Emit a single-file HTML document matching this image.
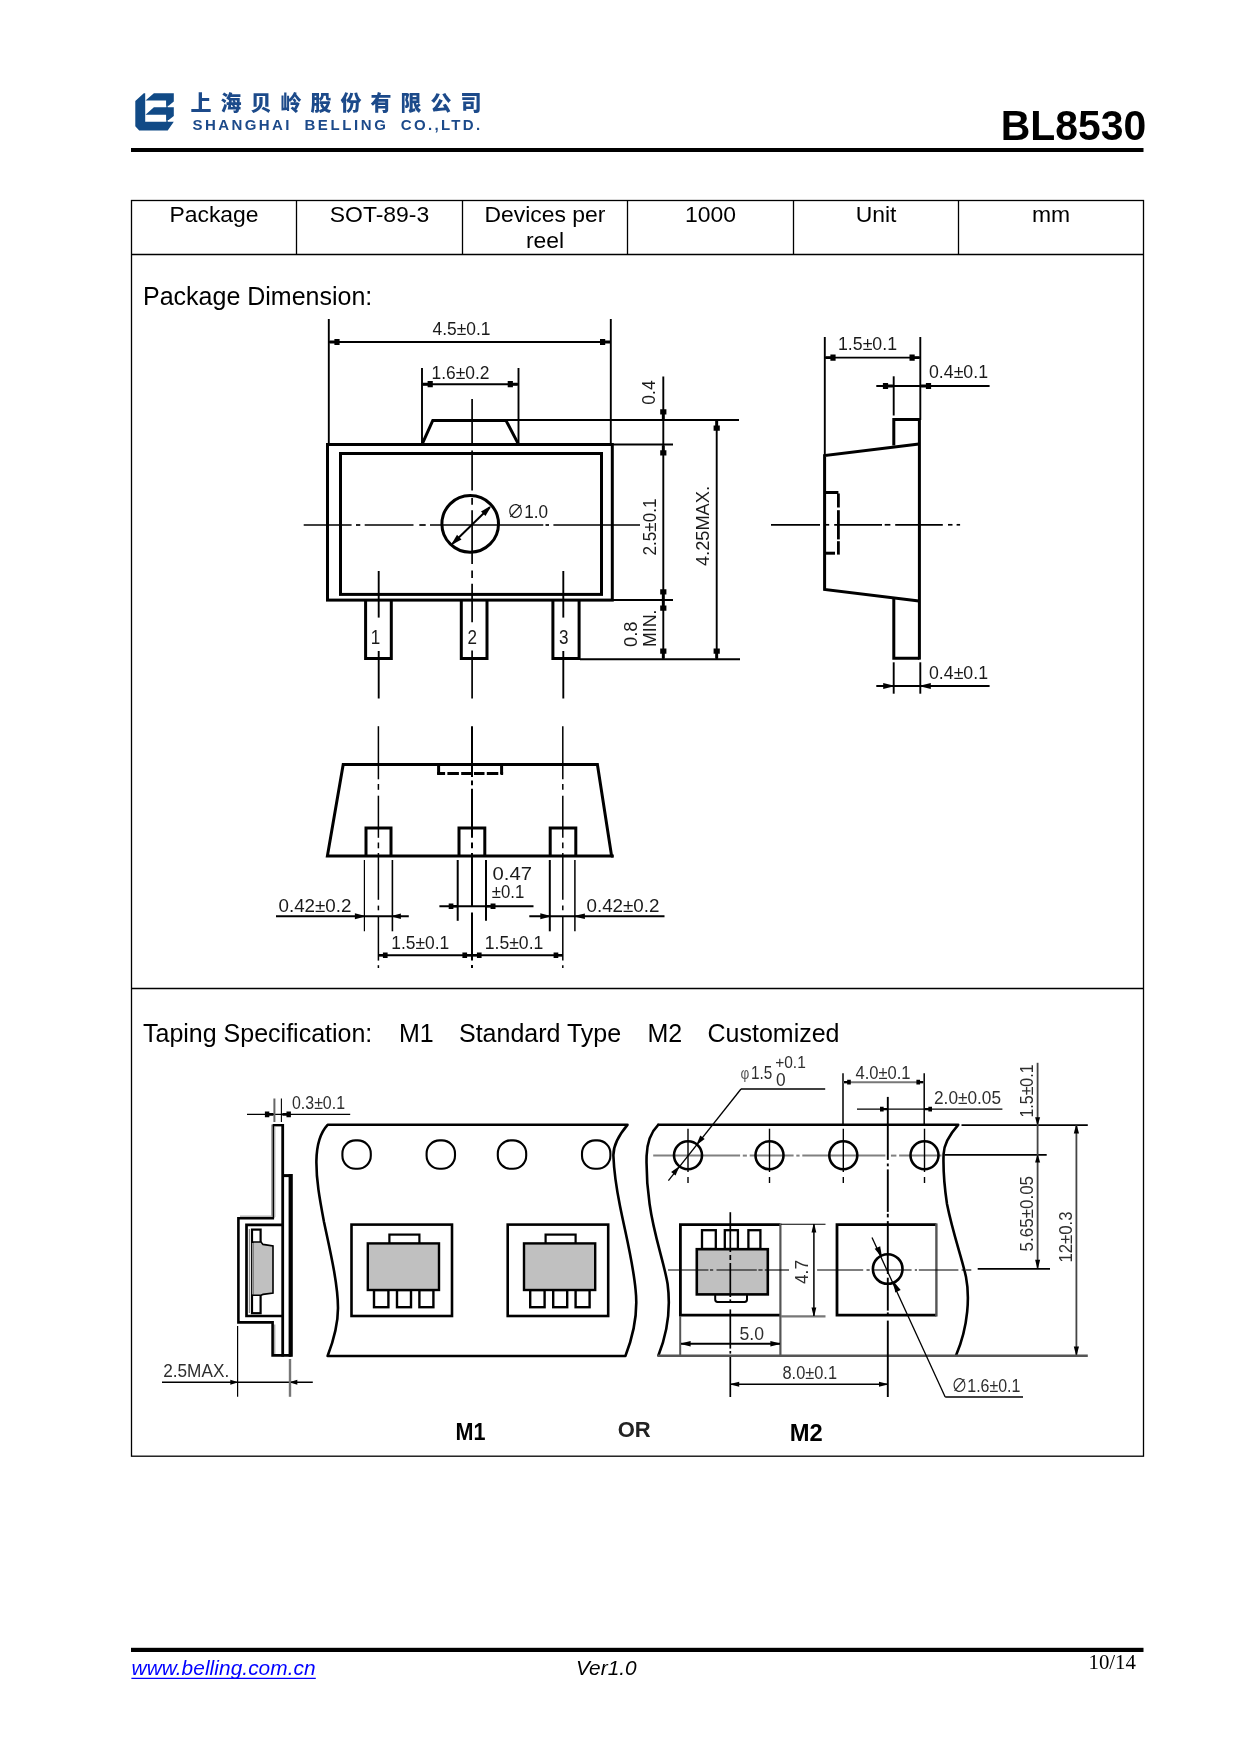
<!DOCTYPE html>
<html lang="en"><head><meta charset="utf-8"><title>BL8530 - Package and Taping Specification</title>
<style>html,body{margin:0;padding:0;background:#fff}body{width:1240px;height:1754px;position:relative;overflow:hidden}svg{position:absolute;left:0;top:0;display:block}text{font-family:"Liberation Sans", "Noto Sans CJK SC", sans-serif}</style></head><body>
<svg style="will-change:transform" width="1240" height="1754" viewBox="0 0 1240 1754">
<rect x="0" y="0" width="1240" height="1754" fill="#fff"/>
<g id="logo" fill="#114a86">
<polygon points="143.8,93.3 145.2,93.3 145.2,121.8 173.8,121.8 167.7,130.5 139.2,130.5 135.3,126.2 135.3,101"/>
<polygon points="153.9,93.3 173.8,93.3 173.8,101.5 168.7,105.8 166.3,105.8 166.3,100.5 145.5,100.5"/>
<polygon points="153.9,107.3 173.8,107.3 173.8,116 168.7,119.9 166.3,119.9 166.3,114.8 145.5,114.8"/>
<rect x="166.3" y="100" width="1.4" height="22"/>
</g>
<text x="190.6" y="109.8" font-size="21" fill="#1c4a8a" font-weight="900" letter-spacing="9">上海贝岭股份有限公司</text>
<text x="192.5" y="130" font-size="15" fill="#1c4a8a" font-weight="bold" textLength="97" lengthAdjust="spacing">SHANGHAI</text>
<text x="304.4" y="130" font-size="15" fill="#1c4a8a" font-weight="bold" textLength="81.6" lengthAdjust="spacing">BELLING</text>
<text x="400.8" y="130" font-size="15" fill="#1c4a8a" font-weight="bold" textLength="79.4" lengthAdjust="spacing">CO.,LTD.</text>
<text x="1000.8" y="140" font-size="41.67" textLength="145.4" lengthAdjust="spacingAndGlyphs" font-weight="bold">BL8530</text>
<rect x="131" y="148" width="1012.5" height="4" fill="#000" stroke="none" stroke-width="0"/>
<rect x="131.5" y="200.5" width="1012" height="1255.7" fill="none" stroke="#000" stroke-width="1.3"/>
<line x1="131.5" y1="254.5" x2="1143.5" y2="254.5" stroke="#000" stroke-width="1.3"/>
<line x1="131.5" y1="988.5" x2="1143.5" y2="988.5" stroke="#000" stroke-width="1.3"/>
<line x1="296.5" y1="200.5" x2="296.5" y2="254.5" stroke="#000" stroke-width="1.3"/>
<line x1="462.5" y1="200.5" x2="462.5" y2="254.5" stroke="#000" stroke-width="1.3"/>
<line x1="627.5" y1="200.5" x2="627.5" y2="254.5" stroke="#000" stroke-width="1.3"/>
<line x1="793.5" y1="200.5" x2="793.5" y2="254.5" stroke="#000" stroke-width="1.3"/>
<line x1="958.5" y1="200.5" x2="958.5" y2="254.5" stroke="#000" stroke-width="1.3"/>
<text x="214" y="221.7" font-size="22.92" text-anchor="middle">Package</text>
<text x="379.5" y="221.7" font-size="22.92" text-anchor="middle">SOT-89-3</text>
<text x="545" y="221.7" font-size="22.92" text-anchor="middle">Devices per</text>
<text x="710.5" y="221.7" font-size="22.92" text-anchor="middle">1000</text>
<text x="876" y="221.7" font-size="22.92" text-anchor="middle">Unit</text>
<text x="1051" y="221.7" font-size="22.92" text-anchor="middle">mm</text>
<text x="545" y="247.8" font-size="22.92" text-anchor="middle">reel</text>
<text x="143" y="305" font-size="25">Package Dimension:</text>
<text x="143" y="1042" font-size="25">Taping Specification:</text>
<text x="399" y="1042" font-size="25">M1</text>
<text x="459" y="1042" font-size="25">Standard Type</text>
<text x="647.5" y="1042" font-size="25">M2</text>
<text x="707.5" y="1042" font-size="25">Customized</text>
<rect x="131" y="1647.8" width="1012.5" height="4.2" fill="#000" stroke="none" stroke-width="0"/>
<text x="131.6" y="1675" font-size="20.83" fill="#0000ff" font-style="italic" textLength="184" lengthAdjust="spacing">www.belling.com.cn</text>
<line x1="131.4" y1="1678.4" x2="315.8" y2="1678.4" stroke="#0000ff" stroke-width="1.4"/>
<text x="576" y="1675" font-size="20.83" font-style="italic">Ver1.0</text>
<text x="1088.5" y="1669" font-size="20.83" style='font-family:"Liberation Serif", "Noto Serif CJK SC", serif'>10/14</text>
<g id="pkg-top">
<line x1="328.8" y1="319" x2="328.8" y2="443" stroke="#000" stroke-width="1.9"/>
<line x1="610.8" y1="319" x2="610.8" y2="443" stroke="#000" stroke-width="1.9"/>
<line x1="328.8" y1="342" x2="610.8" y2="342" stroke="#000" stroke-width="1.9"/>
<polygon points="329.6,340.54 334.4,340.54 334.4,338.9 339.6,338.9 339.6,345.1 334.4,345.1 334.4,343.46 329.6,343.46" fill="#000"/>
<polygon points="610,343.46 605.2,343.46 605.2,345.1 600,345.1 600,338.9 605.2,338.9 605.2,340.54 610,340.54" fill="#000"/>
<text x="461.5" y="334.8" font-size="18.5" text-anchor="middle" fill="#1a1a1a" textLength="58" lengthAdjust="spacingAndGlyphs">4.5±0.1</text>
<line x1="422" y1="368" x2="422" y2="443" stroke="#000" stroke-width="1.9"/>
<line x1="518.5" y1="368" x2="518.5" y2="443" stroke="#000" stroke-width="1.9"/>
<line x1="422" y1="384.2" x2="518.5" y2="384.2" stroke="#000" stroke-width="1.9"/>
<polygon points="422.8,382.74 427.6,382.74 427.6,381.1 432.8,381.1 432.8,387.3 427.6,387.3 427.6,385.66 422.8,385.66" fill="#000"/>
<polygon points="517.7,385.66 512.9,385.66 512.9,387.3 507.7,387.3 507.7,381.1 512.9,381.1 512.9,382.74 517.7,382.74" fill="#000"/>
<text x="460.5" y="378.7" font-size="18.5" text-anchor="middle" fill="#1a1a1a" textLength="58" lengthAdjust="spacingAndGlyphs">1.6±0.2</text>
<polyline points="422.5,443.4 432.8,420.5 506,420.5 518,443.4" fill="none" stroke="#000" stroke-width="3" stroke-linejoin="miter"/>
<rect x="327.5" y="444.5" width="284.8" height="155.6" fill="none" stroke="#000" stroke-width="3"/>
<rect x="340.5" y="453.5" width="261" height="140.9" fill="none" stroke="#000" stroke-width="3"/>
<polyline points="365.6,600 365.6,658.4 391.3,658.4 391.3,600" fill="none" stroke="#000" stroke-width="3" stroke-linejoin="miter"/>
<polyline points="461.3,600 461.3,658.4 487,658.4 487,600" fill="none" stroke="#000" stroke-width="3" stroke-linejoin="miter"/>
<polyline points="552.9,600 552.9,658.4 579.1,658.4 579.1,600" fill="none" stroke="#000" stroke-width="3" stroke-linejoin="miter"/>
<circle cx="470.2" cy="523.9" r="28.3" fill="none" stroke="#000" stroke-width="3"/>
<line x1="452.9" y1="543.3" x2="489.6" y2="507.5" stroke="#000" stroke-width="2"/>
<polygon points="490.75,507.06 485.48,515.97 481.01,511.39 490.05,506.34" fill="#000"/>
<polygon points="451.75,543.74 457.02,534.83 461.49,539.41 452.45,544.46" fill="#000"/>
<text x="507" y="517.8" font-size="18.5" fill="#1a1a1a" textLength="41" lengthAdjust="spacingAndGlyphs">∅1.0</text>
<line x1="303.7" y1="525" x2="351.6" y2="525" stroke="#000" stroke-width="1.7"/>
<line x1="356" y1="525" x2="360.3" y2="525" stroke="#000" stroke-width="1.7"/>
<line x1="364.7" y1="525" x2="413.5" y2="525" stroke="#000" stroke-width="1.7"/>
<line x1="419.3" y1="525" x2="425.7" y2="525" stroke="#000" stroke-width="1.7"/>
<line x1="430" y1="525" x2="543.3" y2="525" stroke="#000" stroke-width="1.7"/>
<line x1="545.5" y1="525" x2="549" y2="525" stroke="#000" stroke-width="1.7"/>
<line x1="553.4" y1="525" x2="640" y2="525" stroke="#000" stroke-width="1.7"/>
<line x1="472.1" y1="399" x2="472.1" y2="443.5" stroke="#000" stroke-width="1.7"/>
<line x1="472.1" y1="450.5" x2="472.1" y2="452" stroke="#000" stroke-width="1.7"/>
<line x1="472.1" y1="455" x2="472.1" y2="490.6" stroke="#000" stroke-width="1.7"/>
<line x1="472.1" y1="498" x2="472.1" y2="504.7" stroke="#000" stroke-width="1.7"/>
<line x1="472.1" y1="510.3" x2="472.1" y2="564" stroke="#000" stroke-width="1.7"/>
<line x1="472.1" y1="570.5" x2="472.1" y2="578" stroke="#000" stroke-width="1.7"/>
<line x1="472.1" y1="583.7" x2="472.1" y2="622.2" stroke="#000" stroke-width="1.7"/>
<line x1="472.1" y1="650.4" x2="472.1" y2="698.4" stroke="#000" stroke-width="1.7"/>
<line x1="378.7" y1="571" x2="378.7" y2="617.6" stroke="#000" stroke-width="1.9"/>
<line x1="378.7" y1="651" x2="378.7" y2="698.5" stroke="#000" stroke-width="1.9"/>
<line x1="563.3" y1="571" x2="563.3" y2="617.6" stroke="#000" stroke-width="1.9"/>
<line x1="563.3" y1="651" x2="563.3" y2="698.5" stroke="#000" stroke-width="1.9"/>
<text x="375.6" y="643.8" font-size="19.5" text-anchor="middle" fill="#1a1a1a" textLength="9.5" lengthAdjust="spacingAndGlyphs">1</text>
<text x="472.2" y="643.8" font-size="19.5" text-anchor="middle" fill="#1a1a1a" textLength="9.5" lengthAdjust="spacingAndGlyphs">2</text>
<text x="563.7" y="643.8" font-size="19.5" text-anchor="middle" fill="#1a1a1a" textLength="9.5" lengthAdjust="spacingAndGlyphs">3</text>
<line x1="507" y1="420" x2="739" y2="420" stroke="#000" stroke-width="1.9"/>
<line x1="613" y1="444.5" x2="673" y2="444.5" stroke="#000" stroke-width="1.9"/>
<line x1="613" y1="600" x2="673" y2="600" stroke="#000" stroke-width="1.9"/>
<line x1="580" y1="659.3" x2="740" y2="659.3" stroke="#000" stroke-width="1.9"/>
<line x1="663.3" y1="376.5" x2="663.3" y2="659.3" stroke="#000" stroke-width="1.9"/>
<line x1="716.7" y1="420" x2="716.7" y2="659.3" stroke="#000" stroke-width="1.9"/>
<polygon points="661.84,419.2 661.84,414.4 660.2,414.4 660.2,409.2 666.4,409.2 666.4,414.4 664.76,414.4 664.76,419.2" fill="#000"/>
<polygon points="664.76,445.5 664.76,450.3 666.4,450.3 666.4,455.5 660.2,455.5 660.2,450.3 661.84,450.3 661.84,445.5" fill="#000"/>
<polygon points="661.84,599.2 661.84,594.4 660.2,594.4 660.2,589.2 666.4,589.2 666.4,594.4 664.76,594.4 664.76,599.2" fill="#000"/>
<polygon points="664.76,600.8 664.76,605.6 666.4,605.6 666.4,610.8 660.2,610.8 660.2,605.6 661.84,605.6 661.84,600.8" fill="#000"/>
<polygon points="661.84,658.5 661.84,653.7 660.2,653.7 660.2,648.5 666.4,648.5 666.4,653.7 664.76,653.7 664.76,658.5" fill="#000"/>
<polygon points="718.16,420.8 718.16,425.6 719.8,425.6 719.8,430.8 713.6,430.8 713.6,425.6 715.24,425.6 715.24,420.8" fill="#000"/>
<polygon points="715.24,658.5 715.24,653.7 713.6,653.7 713.6,648.5 719.8,648.5 719.8,653.7 718.16,653.7 718.16,658.5" fill="#000"/>
<text x="654.8" y="392.5" font-size="18.5" text-anchor="middle" transform="rotate(-90 654.8 392.5)" fill="#1a1a1a" textLength="24.5" lengthAdjust="spacingAndGlyphs">0.4</text>
<text x="655.7" y="527" font-size="18.5" text-anchor="middle" transform="rotate(-90 655.7 527)" fill="#1a1a1a" textLength="57" lengthAdjust="spacingAndGlyphs">2.5±0.1</text>
<text x="708.6" y="526" font-size="18.5" text-anchor="middle" transform="rotate(-90 708.6 526)" fill="#1a1a1a" textLength="80" lengthAdjust="spacingAndGlyphs">4.25MAX.</text>
<text x="636.8" y="634.2" font-size="18.5" text-anchor="middle" transform="rotate(-90 636.8 634.2)" fill="#1a1a1a" textLength="25.5" lengthAdjust="spacingAndGlyphs">0.8</text>
<text x="655.8" y="628.3" font-size="18.5" text-anchor="middle" transform="rotate(-90 655.8 628.3)" fill="#1a1a1a" textLength="37.5" lengthAdjust="spacingAndGlyphs">MIN.</text>
</g>
<g id="pkg-side">
<line x1="824.8" y1="337" x2="824.8" y2="456" stroke="#000" stroke-width="1.9"/>
<line x1="920.3" y1="337" x2="920.3" y2="420" stroke="#000" stroke-width="1.9"/>
<line x1="824.8" y1="357.6" x2="920.3" y2="357.6" stroke="#000" stroke-width="1.9"/>
<polygon points="825.6,356.14 830.4,356.14 830.4,354.5 835.6,354.5 835.6,360.7 830.4,360.7 830.4,359.06 825.6,359.06" fill="#000"/>
<polygon points="919.5,359.06 914.7,359.06 914.7,360.7 909.5,360.7 909.5,354.5 914.7,354.5 914.7,356.14 919.5,356.14" fill="#000"/>
<text x="867.5" y="350.2" font-size="18.5" text-anchor="middle" fill="#1a1a1a" textLength="59" lengthAdjust="spacingAndGlyphs">1.5±0.1</text>
<line x1="876.3" y1="386" x2="989.6" y2="386" stroke="#000" stroke-width="2"/>
<line x1="893.7" y1="376.3" x2="893.7" y2="415.5" stroke="#000" stroke-width="1.9"/>
<polygon points="892.9,387.46 888.1,387.46 888.1,389.1 882.9,389.1 882.9,382.9 888.1,382.9 888.1,384.54 892.9,384.54" fill="#000"/>
<polygon points="921.1,384.54 925.9,384.54 925.9,382.9 931.1,382.9 931.1,389.1 925.9,389.1 925.9,387.46 921.1,387.46" fill="#000"/>
<text x="929" y="378.2" font-size="18.5" fill="#1a1a1a" textLength="59" lengthAdjust="spacingAndGlyphs">0.4±0.1</text>
<polyline points="893.8,445.5 893.8,419.6 919.4,419.6" fill="none" stroke="#000" stroke-width="3" stroke-linejoin="miter"/>
<line x1="919.4" y1="418.1" x2="919.4" y2="659.6" stroke="#000" stroke-width="3"/>
<polyline points="919,443.9 824.6,455.6 824.6,589.5 919,601" fill="none" stroke="#000" stroke-width="3" stroke-linejoin="miter"/>
<polyline points="893.8,598 893.8,658.2 919.4,658.2" fill="none" stroke="#000" stroke-width="3" stroke-linejoin="miter"/>
<polyline points="824.6,492.5 838.4,492.5" fill="none" stroke="#000" stroke-width="3" stroke-linejoin="miter"/>
<polyline points="824.6,553.2 835,553.2" fill="none" stroke="#000" stroke-width="3" stroke-linejoin="miter"/>
<line x1="838.4" y1="493.5" x2="838.4" y2="507.5" stroke="#000" stroke-width="2.8"/>
<line x1="838.4" y1="510.2" x2="838.4" y2="539.4" stroke="#000" stroke-width="2.8"/>
<line x1="838.4" y1="541.2" x2="838.4" y2="554.6" stroke="#000" stroke-width="2.8"/>
<line x1="771" y1="524.8" x2="820" y2="524.8" stroke="#000" stroke-width="1.7"/>
<line x1="826" y1="524.8" x2="829.2" y2="524.8" stroke="#000" stroke-width="1.7"/>
<line x1="834.2" y1="524.8" x2="882" y2="524.8" stroke="#000" stroke-width="1.7"/>
<line x1="884.7" y1="524.8" x2="890.4" y2="524.8" stroke="#000" stroke-width="1.7"/>
<line x1="895.2" y1="524.8" x2="942.8" y2="524.8" stroke="#000" stroke-width="1.7"/>
<line x1="948" y1="524.8" x2="952.5" y2="524.8" stroke="#000" stroke-width="1.7"/>
<line x1="956.6" y1="524.8" x2="960.1" y2="524.8" stroke="#000" stroke-width="1.7"/>
<line x1="876.3" y1="686" x2="989.6" y2="686" stroke="#000" stroke-width="2"/>
<line x1="893.7" y1="662.3" x2="893.7" y2="693.7" stroke="#000" stroke-width="1.9"/>
<line x1="920.3" y1="662.3" x2="920.3" y2="693.7" stroke="#000" stroke-width="1.9"/>
<polygon points="893.2,686.5 883.2,689 883.2,683 893.2,685.5" fill="#000"/>
<polygon points="920.8,685.5 930.8,683 930.8,689 920.8,686.5" fill="#000"/>
<text x="929" y="678.6" font-size="18.5" fill="#1a1a1a" textLength="59" lengthAdjust="spacingAndGlyphs">0.4±0.1</text>
</g>
<g id="pkg-front">
<line x1="378.4" y1="726.2" x2="378.4" y2="779.3" stroke="#000" stroke-width="1.5"/>
<line x1="378.4" y1="784" x2="378.4" y2="789.8" stroke="#000" stroke-width="1.5"/>
<line x1="378.4" y1="795.7" x2="378.4" y2="837.8" stroke="#000" stroke-width="1.5"/>
<line x1="378.4" y1="842.5" x2="378.4" y2="848.3" stroke="#000" stroke-width="1.5"/>
<line x1="378.4" y1="853" x2="378.4" y2="899.8" stroke="#000" stroke-width="1.5"/>
<line x1="378.4" y1="905.6" x2="378.4" y2="910.3" stroke="#000" stroke-width="1.5"/>
<line x1="378.4" y1="916" x2="378.4" y2="960.6" stroke="#000" stroke-width="1.5"/>
<line x1="378.4" y1="965.2" x2="378.4" y2="968" stroke="#000" stroke-width="1.5"/>
<line x1="562.8" y1="726.2" x2="562.8" y2="779.3" stroke="#000" stroke-width="1.5"/>
<line x1="562.8" y1="784" x2="562.8" y2="789.8" stroke="#000" stroke-width="1.5"/>
<line x1="562.8" y1="795.7" x2="562.8" y2="837.8" stroke="#000" stroke-width="1.5"/>
<line x1="562.8" y1="842.5" x2="562.8" y2="848.3" stroke="#000" stroke-width="1.5"/>
<line x1="562.8" y1="853" x2="562.8" y2="899.8" stroke="#000" stroke-width="1.5"/>
<line x1="562.8" y1="905.6" x2="562.8" y2="910.3" stroke="#000" stroke-width="1.5"/>
<line x1="562.8" y1="916" x2="562.8" y2="960.6" stroke="#000" stroke-width="1.5"/>
<line x1="562.8" y1="965.2" x2="562.8" y2="968" stroke="#000" stroke-width="1.5"/>
<line x1="472" y1="726.2" x2="472" y2="777" stroke="#000" stroke-width="2"/>
<line x1="472" y1="780.5" x2="472" y2="785.2" stroke="#000" stroke-width="2"/>
<line x1="472" y1="788.7" x2="472" y2="837.8" stroke="#000" stroke-width="2"/>
<line x1="472" y1="842.5" x2="472" y2="848.3" stroke="#000" stroke-width="2"/>
<line x1="472" y1="853" x2="472" y2="906.8" stroke="#000" stroke-width="2"/>
<line x1="472" y1="912.6" x2="472" y2="960.6" stroke="#000" stroke-width="2"/>
<line x1="472" y1="965" x2="472" y2="968" stroke="#000" stroke-width="2"/>
<polygon points="343.2,764.4 597.4,764.4 611.6,856 327.4,856" fill="none" stroke="#000" stroke-width="3" stroke-linejoin="miter"/>
<line x1="611" y1="856" x2="613.8" y2="856" stroke="#000" stroke-width="3"/>
<polyline points="438.6,764.4 438.6,774.2" fill="none" stroke="#000" stroke-width="3" stroke-linejoin="miter"/>
<polyline points="501.6,764.4 501.6,774.2" fill="none" stroke="#000" stroke-width="3" stroke-linejoin="miter"/>
<line x1="437.1" y1="773.6" x2="503.1" y2="773.6" stroke="#000" stroke-width="3" stroke-dasharray="8 2.3 11.5 2.3 10.5 2.3 10.5 2.3 11.5 2.3 4"/>
<polyline points="366,856 366,827.9 391,827.9 391,856" fill="none" stroke="#000" stroke-width="3" stroke-linejoin="miter"/>
<polyline points="459,856 459,827.9 484.8,827.9 484.8,856" fill="none" stroke="#000" stroke-width="3" stroke-linejoin="miter"/>
<polyline points="550.2,856 550.2,827.9 575.8,827.9 575.8,856" fill="none" stroke="#000" stroke-width="3" stroke-linejoin="miter"/>
<line x1="364.4" y1="860" x2="364.4" y2="931.3" stroke="#000" stroke-width="1.2"/>
<line x1="392.4" y1="860" x2="392.4" y2="931.3" stroke="#000" stroke-width="1.6"/>
<line x1="457.7" y1="860" x2="457.7" y2="920.8" stroke="#000" stroke-width="2"/>
<line x1="486" y1="860" x2="486" y2="920.8" stroke="#000" stroke-width="2"/>
<line x1="549.8" y1="860" x2="549.8" y2="931.3" stroke="#000" stroke-width="2"/>
<line x1="574.9" y1="860" x2="574.9" y2="931.3" stroke="#000" stroke-width="1.5"/>
<line x1="276" y1="916.3" x2="408.8" y2="916.3" stroke="#000" stroke-width="1.9"/>
<polygon points="364.4,916.8 354.9,919.3 354.9,913.3 364.4,915.8" fill="#000"/>
<polygon points="392.4,915.8 400.9,913.5 400.9,919.1 392.4,916.8" fill="#000"/>
<text x="278.5" y="912.2" font-size="18.5" fill="#1a1a1a" textLength="73" lengthAdjust="spacingAndGlyphs">0.42±0.2</text>
<line x1="439.4" y1="906.2" x2="533.5" y2="906.2" stroke="#000" stroke-width="1.9"/>
<polygon points="457.7,907.52 453.38,907.52 453.38,909 448.7,909 448.7,903.4 453.38,903.4 453.38,904.88 457.7,904.88" fill="#000"/>
<polygon points="486,904.88 490.56,904.88 490.56,903.4 495.5,903.4 495.5,909 490.56,909 490.56,907.52 486,907.52" fill="#000"/>
<text x="492.5" y="879.8" font-size="18.5" fill="#1a1a1a" textLength="39.5" lengthAdjust="spacingAndGlyphs">0.47</text>
<text x="491.8" y="898.2" font-size="18.5" fill="#1a1a1a" textLength="32.5" lengthAdjust="spacingAndGlyphs">±0.1</text>
<line x1="529.3" y1="916.3" x2="664.5" y2="916.3" stroke="#000" stroke-width="1.9"/>
<polygon points="549.8,916.8 540.3,919.3 540.3,913.3 549.8,915.8" fill="#000"/>
<polygon points="574.9,915.8 584.9,913.5 584.9,919.1 574.9,916.8" fill="#000"/>
<text x="586.5" y="912.2" font-size="18.5" fill="#1a1a1a" textLength="73" lengthAdjust="spacingAndGlyphs">0.42±0.2</text>
<line x1="378.4" y1="955.2" x2="562.8" y2="955.2" stroke="#000" stroke-width="1.9"/>
<polygon points="378.6,953.88 382.92,953.88 382.92,952.4 387.6,952.4 387.6,958 382.92,958 382.92,956.52 378.6,956.52" fill="#000"/>
<polygon points="471.4,956.52 467.08,956.52 467.08,958 462.4,958 462.4,952.4 467.08,952.4 467.08,953.88 471.4,953.88" fill="#000"/>
<polygon points="472.6,953.88 476.92,953.88 476.92,952.4 481.6,952.4 481.6,958 476.92,958 476.92,956.52 472.6,956.52" fill="#000"/>
<polygon points="562.6,956.52 558.28,956.52 558.28,958 553.6,958 553.6,952.4 558.28,952.4 558.28,953.88 562.6,953.88" fill="#000"/>
<text x="391.3" y="948.8" font-size="18.5" fill="#1a1a1a" textLength="58" lengthAdjust="spacingAndGlyphs">1.5±0.1</text>
<text x="484.8" y="948.8" font-size="18.5" fill="#1a1a1a" textLength="58.5" lengthAdjust="spacingAndGlyphs">1.5±0.1</text>
</g>
<g id="tape-side">
<line x1="247" y1="1114.4" x2="350.2" y2="1114.4" stroke="#000" stroke-width="1.3"/>
<line x1="274.4" y1="1098.5" x2="274.4" y2="1122" stroke="#666" stroke-width="2"/>
<line x1="281.4" y1="1098.5" x2="281.4" y2="1122" stroke="#000" stroke-width="1.1"/>
<polygon points="273.4,1115.72 269.32,1115.72 269.32,1117.2 264.9,1117.2 264.9,1111.6 269.32,1111.6 269.32,1113.08 273.4,1113.08" fill="#000"/>
<polygon points="282.4,1113.08 286.48,1113.08 286.48,1111.6 290.9,1111.6 290.9,1117.2 286.48,1117.2 286.48,1115.72 282.4,1115.72" fill="#000"/>
<text x="292" y="1108.7" font-size="18" fill="#2e2e2e" textLength="53" lengthAdjust="spacingAndGlyphs">0.3±0.1</text>
<line x1="272.1" y1="1124.6" x2="272.1" y2="1217" stroke="#8a8a8a" stroke-width="1.7"/>
<line x1="275" y1="1127" x2="275" y2="1217" stroke="#d0d0d0" stroke-width="1.4"/>
<line x1="273.5" y1="1124.2" x2="273.5" y2="1218" stroke="#000" stroke-width="1.4"/>
<line x1="272.8" y1="1125.2" x2="283" y2="1125.2" stroke="#000" stroke-width="2.4"/>
<line x1="240" y1="1216.2" x2="272" y2="1216.2" stroke="#aaa" stroke-width="1.3"/>
<polyline points="274.1,1218.3 238.4,1218.3 238.4,1322.4 272.6,1322.4 272.6,1355.4 291.5,1355.4" fill="none" stroke="#000" stroke-width="2.6" stroke-linejoin="miter"/>
<line x1="274.7" y1="1324.5" x2="274.7" y2="1354" stroke="#aaa" stroke-width="1.4"/>
<line x1="282.7" y1="1124" x2="282.7" y2="1356.6" stroke="#000" stroke-width="2.8"/>
<polyline points="282.6,1175.6 290.7,1175.6" fill="none" stroke="#000" stroke-width="3" stroke-linejoin="miter"/>
<line x1="290.7" y1="1174.1" x2="290.7" y2="1356.7" stroke="#000" stroke-width="4.2"/>
<polyline points="282,1224.8 246.5,1224.8 246.5,1316 282,1316" fill="none" stroke="#000" stroke-width="2.7" stroke-linejoin="miter"/>
<rect x="252" y="1229.6" width="8.6" height="83.6" fill="none" stroke="#000" stroke-width="2.2"/>
<line x1="249.4" y1="1229" x2="249.4" y2="1313" stroke="#888" stroke-width="1.2"/>
<polygon points="252.8,1242 261,1242 263,1244.4 273,1246 273,1293 263,1294.4 261,1295.2 252.8,1295.2" fill="#c0c0c0" stroke="#000" stroke-width="1.6"/>
<line x1="252.8" y1="1243" x2="252.8" y2="1294.4" stroke="#999" stroke-width="1.8"/>
<line x1="162" y1="1382.3" x2="312.8" y2="1382.3" stroke="#000" stroke-width="1.5"/>
<line x1="237.6" y1="1326" x2="237.6" y2="1396.8" stroke="#000" stroke-width="1.2"/>
<line x1="290" y1="1359" x2="290" y2="1396.8" stroke="#777" stroke-width="2.4"/>
<polygon points="236.8,1382.8 230.3,1384.8 230.3,1379.8 236.8,1381.8" fill="#000"/>
<polygon points="290.8,1381.8 297.3,1379.8 297.3,1384.8 290.8,1382.8" fill="#000"/>
<text x="163.2" y="1377.4" font-size="18" fill="#2e2e2e" textLength="66" lengthAdjust="spacingAndGlyphs">2.5MAX.</text>
</g>
<g id="tape-m1">
<path d="M327.6,1124.8 L627.5,1124.8 C618,1136 613,1146 613.4,1156 C614,1172 616,1186 620,1206 C626,1236 633,1262 635.6,1290 C638,1312 634,1334 625.4,1356 L327.6,1356 C333,1342 338,1326 338,1308 C338,1284 330,1250 324,1222 C319.5,1198 316.2,1180 316.4,1161 C316.6,1145 320,1133 327.6,1124.8 Z" fill="none" stroke="#000" stroke-width="2.6" stroke-linejoin="round" stroke-linecap="round"/>
<rect x="342.4" y="1140.4" width="28.4" height="28.4" rx="13" ry="13" fill="#fff" stroke="#000" stroke-width="2.1"/>
<rect x="426.6" y="1140.4" width="28.4" height="28.4" rx="13" ry="13" fill="#fff" stroke="#000" stroke-width="2.1"/>
<rect x="497.8" y="1140.4" width="28.4" height="28.4" rx="13" ry="13" fill="#fff" stroke="#000" stroke-width="2.1"/>
<rect x="582" y="1140.4" width="28.4" height="28.4" rx="13" ry="13" fill="#fff" stroke="#000" stroke-width="2.1"/>
<rect x="351.5" y="1224.6" width="100.5" height="91.4" fill="none" stroke="#000" stroke-width="2.6"/>
<rect x="389.4" y="1234.6" width="30" height="9.4" fill="none" stroke="#000" stroke-width="2.2"/>
<rect x="374" y="1290" width="14.4" height="17.2" fill="none" stroke="#000" stroke-width="2.4"/>
<rect x="397" y="1290" width="14" height="17.2" fill="none" stroke="#000" stroke-width="2.4"/>
<rect x="419.4" y="1290" width="14" height="17.2" fill="none" stroke="#000" stroke-width="2.4"/>
<rect x="367.8" y="1243.4" width="71.2" height="46.6" fill="#c0c0c0" stroke="#000" stroke-width="2.4"/>
<rect x="507.7" y="1224.6" width="100.5" height="91.4" fill="none" stroke="#000" stroke-width="2.6"/>
<rect x="545.6" y="1234.6" width="30" height="9.4" fill="none" stroke="#000" stroke-width="2.2"/>
<rect x="530.2" y="1290" width="14.4" height="17.2" fill="none" stroke="#000" stroke-width="2.4"/>
<rect x="553.2" y="1290" width="14" height="17.2" fill="none" stroke="#000" stroke-width="2.4"/>
<rect x="575.6" y="1290" width="14" height="17.2" fill="none" stroke="#000" stroke-width="2.4"/>
<rect x="524" y="1243.4" width="71.2" height="46.6" fill="#c0c0c0" stroke="#000" stroke-width="2.4"/>
</g>
<g id="tape-m2">
<path d="M658.2,1124.8 L958.2,1124.8 C950,1134 944,1143 943.6,1154 C943,1170 944,1184 947,1204 C953,1234 962,1258 966,1277 C969.5,1295 969,1325 956,1355.4 " fill="none" stroke="#000" stroke-width="2.6" stroke-linejoin="round" stroke-linecap="round"/>
<path d="M658.2,1124.8 C651,1132 647,1142 646.6,1156 C646.2,1172 647,1186 649.6,1204 C654,1236 664,1262 667.6,1284 C670.5,1306 668.5,1330 658.4,1355.4" fill="none" stroke="#000" stroke-width="2.6" stroke-linejoin="round" stroke-linecap="round"/>
<line x1="657.4" y1="1355.7" x2="1087.8" y2="1355.7" stroke="#555" stroke-width="2.6"/>
<line x1="653.2" y1="1155.6" x2="740.1" y2="1155.6" stroke="#808080" stroke-width="2"/>
<line x1="742.8" y1="1155.6" x2="746.9" y2="1155.6" stroke="#808080" stroke-width="2"/>
<line x1="749.7" y1="1155.6" x2="793.6" y2="1155.6" stroke="#808080" stroke-width="2"/>
<line x1="796.3" y1="1155.6" x2="799.6" y2="1155.6" stroke="#808080" stroke-width="2"/>
<line x1="802.3" y1="1155.6" x2="885.4" y2="1155.6" stroke="#808080" stroke-width="2"/>
<line x1="890.9" y1="1155.6" x2="896.4" y2="1155.6" stroke="#808080" stroke-width="2"/>
<line x1="899.1" y1="1155.6" x2="941.6" y2="1155.6" stroke="#808080" stroke-width="2"/>
<circle cx="688" cy="1155.3" r="14" fill="none" stroke="#000" stroke-width="2.6"/>
<line x1="688" y1="1128.7" x2="688" y2="1172" stroke="#000" stroke-width="1.4"/>
<line x1="688" y1="1177" x2="688" y2="1183" stroke="#000" stroke-width="1.4"/>
<circle cx="769.5" cy="1155.3" r="14" fill="none" stroke="#000" stroke-width="2.6"/>
<line x1="769.5" y1="1128.7" x2="769.5" y2="1172" stroke="#000" stroke-width="1.4"/>
<line x1="769.5" y1="1177" x2="769.5" y2="1183" stroke="#000" stroke-width="1.4"/>
<circle cx="843.3" cy="1155.3" r="14" fill="none" stroke="#000" stroke-width="2.6"/>
<line x1="843.3" y1="1128.7" x2="843.3" y2="1172" stroke="#000" stroke-width="1.4"/>
<line x1="843.3" y1="1177" x2="843.3" y2="1183" stroke="#000" stroke-width="1.4"/>
<circle cx="924.5" cy="1155.3" r="14" fill="none" stroke="#000" stroke-width="2.6"/>
<line x1="924.5" y1="1128.7" x2="924.5" y2="1172" stroke="#000" stroke-width="1.4"/>
<line x1="924.5" y1="1177" x2="924.5" y2="1183" stroke="#000" stroke-width="1.4"/>
<polyline points="780.4,1224.6 680.4,1224.6 680.4,1315.2 780.4,1315.2" fill="none" stroke="#000" stroke-width="2.8" stroke-linejoin="miter"/>
<line x1="780.4" y1="1223.4" x2="780.4" y2="1355" stroke="#555" stroke-width="2.2"/>
<line x1="680.2" y1="1316" x2="680.2" y2="1355" stroke="#555" stroke-width="2"/>
<polyline points="936.4,1224.6 837,1224.6 837,1315.2 936.4,1315.2" fill="none" stroke="#000" stroke-width="2.8" stroke-linejoin="miter"/>
<line x1="936.4" y1="1223.4" x2="936.4" y2="1316.5" stroke="#555" stroke-width="2.4"/>
<rect x="702" y="1230.2" width="13.8" height="18.8" fill="none" stroke="#000" stroke-width="2.3"/>
<rect x="724.8" y="1230.2" width="13.1" height="18.8" fill="none" stroke="#000" stroke-width="2.3"/>
<rect x="748.4" y="1230.2" width="12" height="18.8" fill="none" stroke="#000" stroke-width="2.3"/>
<path d="M715.2,1295 L715.2,1299.6 Q715.2,1302 717.6,1302 L744.6,1302 Q747,1302 747,1299.6 L747,1295" fill="none" stroke="#000" stroke-width="2" stroke-linejoin="round" stroke-linecap="round"/>
<rect x="696.8" y="1249.2" width="71" height="45.2" fill="#c0c0c0" stroke="#000" stroke-width="2.6"/>
<line x1="730.3" y1="1212.2" x2="730.3" y2="1252" stroke="#000" stroke-width="1.7"/>
<line x1="730.3" y1="1255" x2="730.3" y2="1260" stroke="#000" stroke-width="1.7"/>
<line x1="730.3" y1="1263" x2="730.3" y2="1297" stroke="#000" stroke-width="1.7"/>
<line x1="730.3" y1="1299.4" x2="730.3" y2="1301.6" stroke="#000" stroke-width="1.7"/>
<line x1="730.3" y1="1309.4" x2="730.3" y2="1348.6" stroke="#000" stroke-width="1.7"/>
<line x1="730.3" y1="1351" x2="730.3" y2="1353.6" stroke="#000" stroke-width="1.7"/>
<line x1="730.3" y1="1357" x2="730.3" y2="1397" stroke="#000" stroke-width="1.7"/>
<line x1="887.8" y1="1096.9" x2="887.8" y2="1159.9" stroke="#000" stroke-width="1.9"/>
<line x1="887.8" y1="1163.5" x2="887.8" y2="1166.3" stroke="#000" stroke-width="1.9"/>
<line x1="887.8" y1="1169.4" x2="887.8" y2="1211.9" stroke="#000" stroke-width="1.9"/>
<line x1="887.8" y1="1213.8" x2="887.8" y2="1217.4" stroke="#000" stroke-width="1.9"/>
<line x1="887.8" y1="1221.1" x2="887.8" y2="1274" stroke="#000" stroke-width="1.9"/>
<line x1="887.8" y1="1277.7" x2="887.8" y2="1310.6" stroke="#000" stroke-width="1.9"/>
<line x1="887.8" y1="1312.4" x2="887.8" y2="1314.8" stroke="#000" stroke-width="1.9"/>
<line x1="887.8" y1="1320.6" x2="887.8" y2="1397" stroke="#000" stroke-width="1.9"/>
<line x1="668" y1="1270" x2="708.4" y2="1270" stroke="#000" stroke-width="1.1"/>
<line x1="710" y1="1270" x2="713.2" y2="1270" stroke="#000" stroke-width="1.1"/>
<line x1="716.5" y1="1270" x2="756.8" y2="1270" stroke="#000" stroke-width="1.1"/>
<line x1="758.4" y1="1270" x2="762.6" y2="1270" stroke="#000" stroke-width="1.1"/>
<line x1="764.8" y1="1270" x2="789" y2="1270" stroke="#000" stroke-width="1.1"/>
<line x1="817.1" y1="1270" x2="863.2" y2="1270" stroke="#000" stroke-width="1.1"/>
<line x1="866.5" y1="1270" x2="869.7" y2="1270" stroke="#000" stroke-width="1.1"/>
<line x1="872.9" y1="1270" x2="911.6" y2="1270" stroke="#000" stroke-width="1.1"/>
<line x1="914.8" y1="1270" x2="917" y2="1270" stroke="#000" stroke-width="1.1"/>
<line x1="918.8" y1="1270" x2="958.4" y2="1270" stroke="#000" stroke-width="1.1"/>
<line x1="961.6" y1="1270" x2="964" y2="1270" stroke="#000" stroke-width="1.1"/>
<line x1="965.8" y1="1270" x2="971.3" y2="1270" stroke="#000" stroke-width="1.1"/>
<line x1="977.7" y1="1268.8" x2="1050" y2="1268.8" stroke="#000" stroke-width="1.8"/>
<circle cx="887.7" cy="1269" r="14.8" fill="none" stroke="#000" stroke-width="2.6"/>
<line x1="872" y1="1237.6" x2="945.2" y2="1397" stroke="#000" stroke-width="1.3"/>
<line x1="945.2" y1="1397" x2="1023" y2="1397" stroke="#000" stroke-width="1.5"/>
<polygon points="880.95,1256.41 874.7,1248.82 880.16,1246.32 881.85,1255.99" fill="#000"/>
<polygon points="894.45,1282.39 900.7,1289.98 895.24,1292.48 893.55,1282.81" fill="#000"/>
<text x="951.4" y="1392.2" font-size="18" fill="#2e2e2e" textLength="69" lengthAdjust="spacingAndGlyphs">∅1.6±0.1</text>
<line x1="668.4" y1="1180.6" x2="741" y2="1089" stroke="#000" stroke-width="1.3"/>
<line x1="741" y1="1089" x2="825.2" y2="1089" stroke="#000" stroke-width="1.3"/>
<polygon points="696.81,1143.69 700.29,1135.6 704.67,1139.08 697.59,1144.31" fill="#000"/>
<polygon points="678.99,1167.51 675.51,1175.6 671.13,1172.12 678.21,1166.89" fill="#000"/>
<text x="740.6" y="1079.2" font-size="16" fill="#5a5a5a" textLength="8.8" lengthAdjust="spacingAndGlyphs">φ</text>
<text x="751" y="1078.5" font-size="18.5" fill="#2e2e2e" textLength="21.3" lengthAdjust="spacingAndGlyphs">1.5</text>
<text x="775.2" y="1068" font-size="16.5" fill="#2e2e2e" textLength="30.6" lengthAdjust="spacingAndGlyphs">+0.1</text>
<text x="776" y="1086" font-size="18" fill="#2e2e2e" textLength="9.6" lengthAdjust="spacingAndGlyphs">0</text>
<line x1="843" y1="1073.2" x2="843" y2="1124" stroke="#000" stroke-width="1.5"/>
<line x1="924.2" y1="1073.2" x2="924.2" y2="1124" stroke="#000" stroke-width="1.5"/>
<line x1="843" y1="1082.2" x2="924.2" y2="1082.2" stroke="#777" stroke-width="2"/>
<polygon points="843.8,1081.07 847.16,1081.07 847.16,1079.8 850.8,1079.8 850.8,1084.6 847.16,1084.6 847.16,1083.33 843.8,1083.33" fill="#000"/>
<polygon points="923.4,1083.33 920.04,1083.33 920.04,1084.6 916.4,1084.6 916.4,1079.8 920.04,1079.8 920.04,1081.07 923.4,1081.07" fill="#000"/>
<text x="855.5" y="1078.6" font-size="18" fill="#2e2e2e" textLength="55" lengthAdjust="spacingAndGlyphs">4.0±0.1</text>
<line x1="857" y1="1109.2" x2="1002.4" y2="1109.2" stroke="#000" stroke-width="1.3"/>
<polygon points="887,1110.33 883.64,1110.33 883.64,1111.6 880,1111.6 880,1106.8 883.64,1106.8 883.64,1108.07 887,1108.07" fill="#000"/>
<polygon points="925,1108.07 928.36,1108.07 928.36,1106.8 932,1106.8 932,1111.6 928.36,1111.6 928.36,1110.33 925,1110.33" fill="#000"/>
<text x="934" y="1104.4" font-size="18" fill="#2e2e2e" textLength="67" lengthAdjust="spacingAndGlyphs">2.0±0.05</text>
<line x1="781" y1="1224.2" x2="825.5" y2="1224.2" stroke="#000" stroke-width="1.1"/>
<line x1="781" y1="1316.4" x2="825.5" y2="1316.4" stroke="#777" stroke-width="2.2"/>
<line x1="813.9" y1="1224" x2="813.9" y2="1316" stroke="#000" stroke-width="1.5"/>
<polygon points="814.4,1224.6 816.3,1232.6 811.5,1232.6 813.4,1224.6" fill="#000"/>
<polygon points="813.4,1315.6 811.5,1307.6 816.3,1307.6 814.4,1315.6" fill="#000"/>
<text x="808" y="1272" font-size="18" text-anchor="middle" transform="rotate(-90 808 1272)" fill="#2e2e2e" textLength="24" lengthAdjust="spacingAndGlyphs">4.7</text>
<line x1="681" y1="1343.8" x2="780" y2="1343.8" stroke="#000" stroke-width="2"/>
<polygon points="681.6,1343.3 690.6,1341 690.6,1346.6 681.6,1344.3" fill="#000"/>
<polygon points="779.4,1344.3 770.4,1346.6 770.4,1341 779.4,1343.3" fill="#000"/>
<text x="739.5" y="1339.6" font-size="18" fill="#2e2e2e" textLength="24.5" lengthAdjust="spacingAndGlyphs">5.0</text>
<line x1="730.3" y1="1384.3" x2="887.8" y2="1384.3" stroke="#000" stroke-width="1.5"/>
<polygon points="731.2,1383.8 739.2,1381.8 739.2,1386.8 731.2,1384.8" fill="#000"/>
<polygon points="887,1384.8 879,1386.8 879,1381.8 887,1383.8" fill="#000"/>
<text x="782.5" y="1379" font-size="18" fill="#2e2e2e" textLength="54.5" lengthAdjust="spacingAndGlyphs">8.0±0.1</text>
<line x1="961.5" y1="1125.2" x2="1087.8" y2="1125.2" stroke="#000" stroke-width="1.7"/>
<line x1="944.6" y1="1154.9" x2="1046.7" y2="1154.9" stroke="#000" stroke-width="1.7"/>
<line x1="1037.6" y1="1062.8" x2="1037.6" y2="1268" stroke="#444" stroke-width="1.8"/>
<line x1="1076.4" y1="1124.8" x2="1076.4" y2="1355" stroke="#444" stroke-width="1.8"/>
<polygon points="1037.1,1124.2 1035.1,1117.2 1040.1,1117.2 1038.1,1124.2" fill="#000"/>
<polygon points="1038.1,1155.6 1040.1,1162.6 1035.1,1162.6 1037.1,1155.6" fill="#000"/>
<polygon points="1037.1,1267.8 1035.1,1259.8 1040.1,1259.8 1038.1,1267.8" fill="#000"/>
<polygon points="1076.9,1125.6 1079,1133.6 1073.8,1133.6 1075.9,1125.6" fill="#000"/>
<polygon points="1075.9,1354.4 1073.8,1346.4 1079,1346.4 1076.9,1354.4" fill="#000"/>
<text x="1033" y="1091" font-size="18" text-anchor="middle" transform="rotate(-90 1033 1091)" fill="#2e2e2e" textLength="53" lengthAdjust="spacingAndGlyphs">1.5±0.1</text>
<text x="1033.5" y="1213.7" font-size="18" text-anchor="middle" transform="rotate(-90 1033.5 1213.7)" fill="#2e2e2e" textLength="75.5" lengthAdjust="spacingAndGlyphs">5.65±0.05</text>
<text x="1071.7" y="1237" font-size="18" text-anchor="middle" transform="rotate(-90 1071.7 1237)" fill="#2e2e2e" textLength="51" lengthAdjust="spacingAndGlyphs">12±0.3</text>
</g>
<text x="455.5" y="1439.7" font-size="24.5" textLength="30" lengthAdjust="spacingAndGlyphs" font-weight="bold">M1</text>
<text x="617.7" y="1437.4" font-size="21.5" fill="#222" textLength="33" lengthAdjust="spacingAndGlyphs" font-weight="bold">OR</text>
<text x="789.8" y="1440.8" font-size="24.5" textLength="33" lengthAdjust="spacingAndGlyphs" font-weight="bold">M2</text>
</svg></body></html>
